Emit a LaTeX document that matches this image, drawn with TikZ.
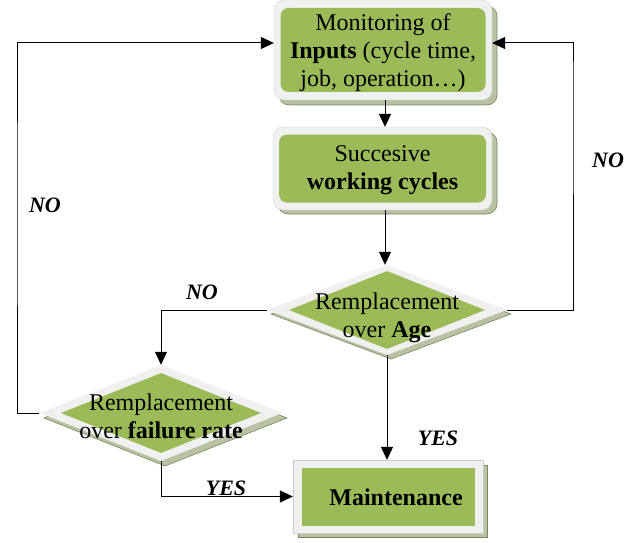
\documentclass[tikz,border=0pt]{standalone}
\usepackage{fontspec}
\setmainfont{Liberation Serif}
\usetikzlibrary{shapes.geometric,arrows.meta}
\definecolor{boxgreen}{RGB}{155,187,89}
\definecolor{rimgray}{RGB}{240,240,240}
\definecolor{shadowc}{RGB}{186,194,164}
\definecolor{shadowline}{RGB}{120,135,96}
\tikzset{
  rimbox/.style={rectangle,fill=rimgray,draw=rimgray!85!black,line width=0.3pt,inner sep=0},
  greenbox/.style={rectangle,fill=boxgreen,inner sep=0,align=center,font=\fontsize{24}{28}\selectfont},
  rimdia/.style={diamond,fill=rimgray,inner sep=0},
  greendia/.style={diamond,fill=boxgreen,inner sep=0},
  shadowbox/.style={fill=shadowc,draw=shadowline,line width=0.6pt},
  txt/.style={align=center,font=\fontsize{24}{28}\selectfont,inner sep=0},
  lbl/.style={font=\fontsize{22}{24}\selectfont\bfseries\itshape,inner sep=0},
  conn/.style={line width=1pt,-{Triangle[length=13pt,width=12pt]}},
  plain/.style={line width=1pt}
}
\begin{document}
\begin{tikzpicture}[x=1pt,y=-1pt]
\useasboundingbox (0,0) rectangle (643,543);
% shadows
\fill[shadowbox,rounded corners=10] (279,6) rectangle (497,105);
\fill[shadowbox,rounded corners=10] (278,132) rectangle (497,214);
\fill[shadowbox] (298,465) rectangle (487,537);
\draw[shadowbox] (391,270) -- (511,314) -- (391,359) -- (271,314) -- cycle;
\draw[shadowbox] (165,370) -- (287,418) -- (165,466) -- (44,418) -- cycle;
% box 1
\node[rimbox,rounded corners=10,minimum width=218,minimum height=100] (b1) at (383,50) {};
\node[greenbox,rounded corners=8,minimum width=205,minimum height=84] (b1i) at (b1.center) {};
\node[txt] (b1t) at ([yshift=-3]b1.center)
  {Monitoring of\\\textbf{Inputs} (cycle time,\\job, operation\dots)};
% box 2
\node[rimbox,rounded corners=10,minimum width=219,minimum height=83] (b2) at (382.5,168.5) {};
\node[greenbox,rounded corners=8,minimum width=207,minimum height=68] (b2i) at (b2.center) {};
\node[txt] (b2t) at ([yshift=-2]b2.center) {Succesive\\\textbf{working cycles}};
% diamond 1
\node[rimdia,minimum width=240,minimum height=90] (d1) at (387,310) {};
\node[greendia,minimum width=196,minimum height=78] (d1i) at (d1.center) {};
\node[txt] (d1t) at ([yshift=-8]d1.center) {Remplacement\\over \textbf{Age}};
% diamond 2
\node[rimdia,minimum width=243,minimum height=96] (d2) at (161,413) {};
\node[greendia,minimum width=200,minimum height=80] (d2i) at (d2.center) {};
\node[txt] (d2t) at ([yshift=-3]d2.center) {Remplacement\\over \textbf{failure rate}};
% maintenance
\node[rimbox,minimum width=190,minimum height=73] (m) at (388,496.5) {};
\node[greenbox,minimum width=173,minimum height=58] (mi) at (m.center) {};
\node[txt,font=\fontsize{24}{28}\selectfont\bfseries] (mt) at (396,497) {Maintenance};
% connectors
\draw[conn] (b1.south -| 385,0) -- (b2.north -| 385,0);
\draw[conn] (b2.south -| 385,0) -- (d1.north -| 385,0);
\draw[conn] (d1.south) -- (m.north -| d1.south);
\draw[conn] (d1.east) -| (573,80) |- ([yshift=7]b1.east);
\draw[conn] (d2.west) -| (17,200) |- ([yshift=7]b1.west);
\draw[conn] (d1.west) -| (d2.north);
\draw[conn] (d2.south) |- (m.west);
% labels
\node[lbl] (l1) at (608,160) {NO};
\node[lbl] (l2) at (45,205) {NO};
\node[lbl] (l3) at (202,292) {NO};
\node[lbl] (l4) at (438,438) {YES};
\node[lbl] (l5) at (226,488) {YES};
\end{tikzpicture}
\end{document}
